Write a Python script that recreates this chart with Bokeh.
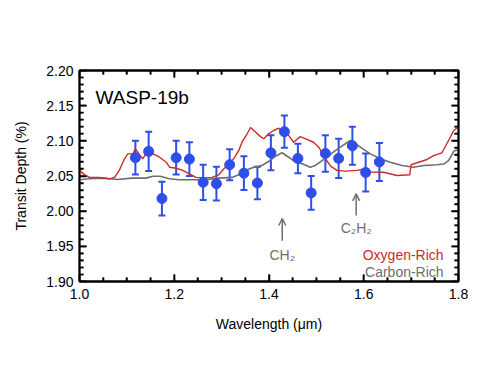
import numpy as np
from bokeh.plotting import figure
from bokeh.models import (ColumnDataSource, LinearAxis, FixedTicker, NumeralTickFormatter,
                          CustomJSTickFormatter, Whisker, TeeHead, Arrow, OpenHead, Label, Range1d)
from bokeh.embed import file_html
from bokeh.resources import INLINE

# ---- data ----
wl_obs = [1.118, 1.146, 1.174, 1.204, 1.232, 1.261, 1.289, 1.317, 1.347, 1.3755,
          1.404, 1.4325, 1.461, 1.489, 1.519, 1.547, 1.576, 1.604, 1.633]
depth_obs = [2.076, 2.085, 2.018, 2.076, 2.074, 2.041, 2.039, 2.066, 2.054, 2.040,
             2.083, 2.113, 2.075, 2.026, 2.082, 2.075, 2.093, 2.055, 2.070]
depth_err = [0.024, 0.028, 0.024, 0.024, 0.024, 0.025, 0.024, 0.022, 0.024, 0.023,
             0.025, 0.023, 0.021, 0.024, 0.026, 0.028, 0.027, 0.027, 0.027]

wl_oxy = [1.000, 1.0105, 1.021, 1.042, 1.063, 1.074, 1.084, 1.095, 1.102, 1.1125,
          1.118, 1.127, 1.1335, 1.144, 1.155, 1.169, 1.183, 1.190, 1.204, 1.218,
          1.232, 1.246, 1.266, 1.280, 1.294, 1.3045, 1.315, 1.3255, 1.336, 1.343,
          1.354, 1.361, 1.368, 1.382, 1.389, 1.399, 1.410, 1.4205, 1.431, 1.441,
          1.452, 1.466, 1.480, 1.494, 1.506, 1.519, 1.530, 1.5436, 1.560, 1.586,
          1.600, 1.614, 1.642, 1.670, 1.697, 1.700, 1.716, 1.7335, 1.7475, 1.765,
          1.779, 1.790, 1.800]
depth_oxy = [2.058, 2.052, 2.048, 2.048, 2.046, 2.048, 2.058, 2.0745, 2.0815, 2.0815,
             2.0887, 2.080, 2.0745, 2.086, 2.0815, 2.0767, 2.0696, 2.0625, 2.061, 2.058,
             2.053, 2.048, 2.0474, 2.048, 2.0517, 2.060, 2.0674, 2.0745, 2.086, 2.098,
             2.110, 2.119, 2.1147, 2.106, 2.103, 2.110, 2.1147, 2.118, 2.112, 2.108,
             2.098, 2.106, 2.102, 2.098, 2.090, 2.0745, 2.064, 2.058, 2.057, 2.058,
             2.060, 2.0555, 2.0554, 2.0507, 2.0517, 2.066, 2.0696, 2.0735, 2.079, 2.083,
             2.1005, 2.1147, 2.120]

wl_carb = [1.000, 1.02, 1.05, 1.08, 1.11, 1.14, 1.155, 1.17, 1.19, 1.21,
           1.266, 1.294, 1.322, 1.336, 1.354, 1.368, 1.385, 1.399, 1.4135, 1.4276,
           1.4416, 1.4557, 1.470, 1.487, 1.498, 1.512, 1.526, 1.540, 1.5506, 1.5717,
           1.5928, 1.614, 1.635, 1.656, 1.681, 1.705, 1.7265, 1.7545, 1.7686, 1.779,
           1.791, 1.800]
depth_carb = [2.0446, 2.046, 2.047, 2.045, 2.047, 2.047, 2.0497, 2.0497, 2.046, 2.0446,
              2.0446, 2.047, 2.048, 2.0517, 2.0588, 2.0625, 2.065, 2.0706, 2.078, 2.083,
              2.0767, 2.0696, 2.0674, 2.0625, 2.065, 2.072, 2.079, 2.086, 2.091, 2.1005,
              2.091, 2.0815, 2.0745, 2.0696, 2.065, 2.0625, 2.065, 2.066, 2.067, 2.072,
              2.086, 2.087]

x_ticks = [1.0, 1.2, 1.4, 1.6, 1.8]
y_ticks = [1.90, 1.95, 2.00, 2.05, 2.10, 2.15, 2.20]
x_minor_step = 0.05
y_minor_step = 0.01

x_range = (1.0, 1.8)
y_range = (1.90, 2.20)

FONT = "Liberation Sans"
BLUE = "#2d4fe8"
RED = "#cc2b27"
GRAY = "#6e6e6e"

FW, FH = 379, 211
p = figure(frame_width=FW, frame_height=FH, min_border_left=79, min_border_top=70,
           min_border_right=10, min_border_bottom=90,
           x_range=Range1d(*x_range), y_range=Range1d(*y_range),
           output_backend="svg", toolbar_location=None, x_axis_type=None, y_axis_type=None)
p.grid.visible = False
p.outline_line_color = "black"
p.outline_line_width = 1.8
p.background_fill_color = None
p.border_fill_color = None

x_minor = np.round(np.arange(x_range[0], x_range[1] + 1e-9, x_minor_step), 4).tolist()
y_minor = np.round(np.arange(y_range[0], y_range[1] + 1e-9, y_minor_step), 4).tolist()
x_minor = [v for v in x_minor if not any(abs(v - t) < 1e-6 for t in x_ticks)]
y_minor = [v for v in y_minor if not any(abs(v - t) < 1e-6 for t in y_ticks)]


def style_axis(ax, labels=True):
    ax.axis_line_width = 1.8
    ax.axis_line_color = "black"
    ax.major_tick_in = 7
    ax.major_tick_out = 0
    ax.minor_tick_in = 4
    ax.minor_tick_out = 0
    ax.major_tick_line_width = 1.6
    ax.minor_tick_line_width = 1.6
    ax.major_tick_line_color = "black"
    ax.minor_tick_line_color = "black"
    ax.major_label_text_font = FONT
    ax.major_label_text_font_size = "14px"
    ax.major_label_text_color = "black"
    ax.axis_label_text_font = FONT
    ax.axis_label_text_font_size = "14px"
    ax.axis_label_text_font_style = "normal"
    ax.axis_label_text_color = "black"
    if not labels:
        ax.formatter = CustomJSTickFormatter(code="return ''")
        ax.major_label_standoff = 0


def make_ticker(major, minor):
    return FixedTicker(ticks=list(major), minor_ticks=list(minor))


xb = LinearAxis(ticker=make_ticker(x_ticks, x_minor), formatter=NumeralTickFormatter(format="0.0"),
                axis_label="Wavelength (μm)")
style_axis(xb)
xb.major_label_standoff = 7
xb.axis_label_standoff = 14
p.add_layout(xb, "below")

yl = LinearAxis(ticker=make_ticker(y_ticks, y_minor), formatter=NumeralTickFormatter(format="0.00"),
                axis_label="Transit Depth (%)")
style_axis(yl)
yl.major_label_standoff = 6
yl.axis_label_standoff = 14
p.add_layout(yl, "left")

xa = LinearAxis(ticker=make_ticker(x_ticks, x_minor))
style_axis(xa, labels=False)
p.add_layout(xa, "above")
yr = LinearAxis(ticker=make_ticker(y_ticks, y_minor))
style_axis(yr, labels=False)
p.add_layout(yr, "right")

# inward tick marks also as clipped dash markers centred on the frame edges
for ticks, size in ((x_ticks, 14), (x_minor, 8)):
    n = len(ticks)
    for yb in y_range:
        p.scatter(x=list(ticks), y=[yb] * n, marker="dash", size=size, angle=np.pi / 2,
                  line_color="black", line_width=1.6)
for ticks, size in ((y_ticks, 14), (y_minor, 8)):
    n = len(ticks)
    for xb_ in x_range:
        p.scatter(x=[xb_] * n, y=list(ticks), marker="dash", size=size,
                  line_color="black", line_width=1.6)

# model spectra
p.line(wl_carb, depth_carb, line_color=GRAY, line_width=1.6)
p.line(wl_oxy, depth_oxy, line_color=RED, line_width=1.4)

# observations
lower = [d - e for d, e in zip(depth_obs, depth_err)]
upper = [d + e for d, e in zip(depth_obs, depth_err)]
src = ColumnDataSource(dict(x=wl_obs, y=depth_obs, lo=lower, hi=upper))
wh = Whisker(source=src, base="x", lower="lo", upper="hi", line_color=BLUE, line_width=2,
             upper_head=TeeHead(size=7, line_color=BLUE, line_width=2),
             lower_head=TeeHead(size=7, line_color=BLUE, line_width=2))
p.add_layout(wh)
p.scatter("x", "y", source=src, size=10, fill_color=BLUE, line_color=BLUE)

# annotations
p.add_layout(Arrow(x_start=1.428, y_start=1.958, x_end=1.428, y_end=1.9896,
                   line_color=GRAY, line_width=1.5,
                   end=OpenHead(size=7, line_color=GRAY, line_width=1.5)))
p.add_layout(Arrow(x_start=1.584, y_start=1.9938, x_end=1.584, y_end=2.0247,
                   line_color=GRAY, line_width=1.5,
                   end=OpenHead(size=7, line_color=GRAY, line_width=1.5)))

p.add_layout(Label(x=1.428, y=1.937, text="CH₂", text_align="center",
                   text_baseline="alphabetic", text_font=FONT, text_font_size="14px",
                   text_color=GRAY))
p.add_layout(Label(x=1.584, y=1.9758, text="C₂H₂", text_align="center",
                   text_baseline="alphabetic", text_font=FONT, text_font_size="14px",
                   text_color=GRAY))
p.add_layout(Label(x=1.7686, y=1.937, text="Oxygen-Rich", text_align="right",
                   text_baseline="alphabetic", text_font=FONT, text_font_size="14px",
                   text_color=RED))
p.add_layout(Label(x=1.7686, y=1.9132, text="Carbon-Rich", text_align="right",
                   text_baseline="alphabetic", text_font=FONT, text_font_size="14px",
                   text_color=GRAY))
p.add_layout(Label(x=1.034, y=2.161, text="WASP-19b", text_align="left",
                   text_baseline="alphabetic", text_font=FONT, text_font_size="19px",
                   text_color="black"))

open("out.html", "w").write(file_html(p, INLINE))
